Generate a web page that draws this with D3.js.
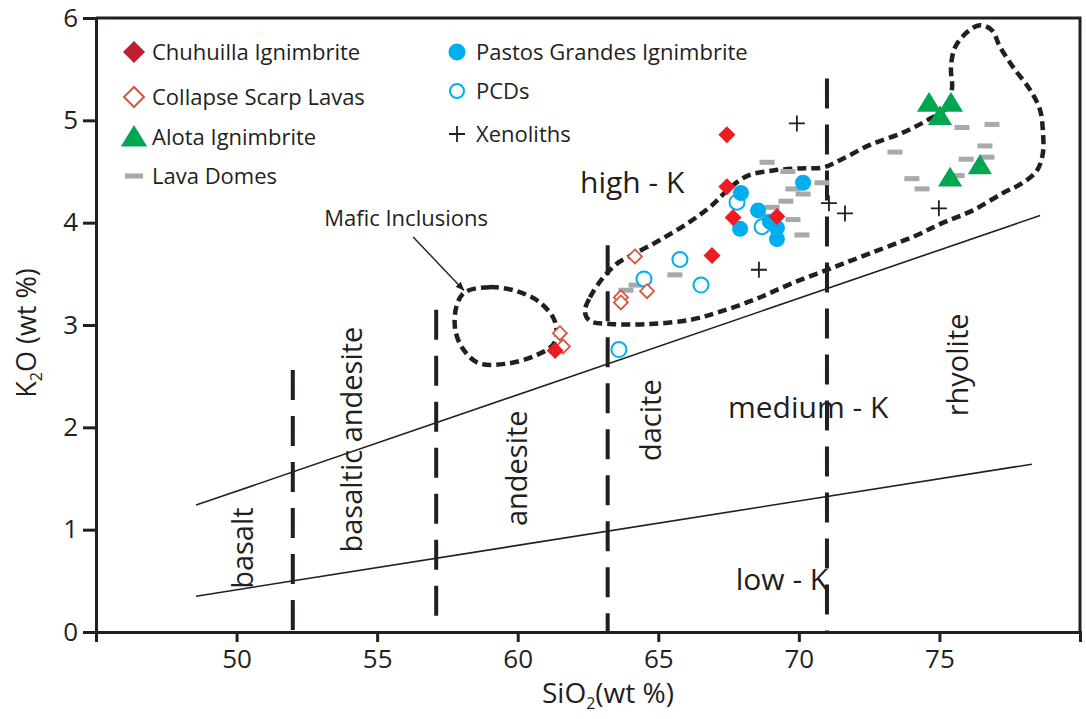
<!DOCTYPE html>
<html>
<head>
<meta charset="utf-8">
<script src="https://cdn.jsdelivr.net/npm/d3@7"></script>
<style>
  body { margin: 0; background: #fff; }
  text { font-family: "Open Sans", sans-serif; fill: #231f20; }
</style>
</head>
<body>
<div id="chart"></div>
<script>
// --- data (SiO2 wt %, K2O wt %) ---
var xTicks = [50, 55, 60, 65, 70, 75];
var yTicks = [0, 1, 2, 3, 4, 5, 6];

var chuhuilla = [[67.44, 4.86], [67.44, 4.35], [67.66, 4.05], [69.22, 4.06], [66.91, 3.68], [61.33, 2.75]];
var collapseScarp = [[64.17, 3.67], [64.60, 3.33], [63.67, 3.27], [63.67, 3.22], [61.50, 2.92], [61.61, 2.79]];
var alota = [[74.63, 5.17], [75.41, 5.17], [75.02, 5.04], [76.44, 4.56], [75.38, 4.44]];
var pastosGrandes = [[70.15, 4.39], [67.94, 4.29], [68.55, 4.12], [67.91, 3.94], [68.97, 4.01], [69.22, 3.95], [69.22, 3.84]];
var pcds = [[67.80, 4.20], [68.69, 3.96], [65.77, 3.64], [64.49, 3.45], [66.52, 3.39], [63.60, 2.76]];
var xenoliths = [[69.93, 4.97], [71.07, 4.19], [71.64, 4.09], [68.58, 3.54], [74.98, 4.14]];
var lavaDomes = [[68.87, 4.59], [69.61, 4.50], [70.82, 4.39], [69.79, 4.33], [70.15, 4.28], [69.54, 4.21],
  [69.05, 4.15], [68.90, 4.06], [69.79, 4.03], [70.11, 3.88], [65.59, 3.49], [63.85, 3.34], [64.21, 3.39],
  [75.80, 4.93], [76.87, 4.96], [73.42, 4.69], [76.62, 4.75], [76.69, 4.64], [75.95, 4.62], [75.63, 4.46],
  [74.02, 4.43], [74.38, 4.33]];

// K-series boundaries
var highKLine = [[48.56, 1.24], [78.58, 4.07]];
var lowKLine = [[48.56, 0.35], [78.29, 1.64]];

// rock-type boundaries: [SiO2, top K2O]
var rockBounds = [[52, 2.56], [57.1, 3.15], [63.2, 3.78], [71, 5.41]];

// dotted fields
var maficField = [[58.12, 3.32], [59.01, 3.37], [59.97, 3.33], [60.79, 3.22], [61.33, 3.03], [61.29, 2.82],
  [60.62, 2.70], [59.55, 2.62], [58.59, 2.63], [58.02, 2.78], [57.77, 2.97], [57.84, 3.20]];
var mainField = [[62.39, 3.13], [62.57, 3.27], [63.03, 3.46], [63.53, 3.60], [64.17, 3.70], [65.06, 3.83],
  [66.13, 4.01], [66.91, 4.17], [67.55, 4.34], [68.19, 4.46], [69.08, 4.51], [70.04, 4.53], [70.86, 4.54],
  [71.53, 4.62], [72.53, 4.76], [73.70, 4.88], [74.56, 5.00], [75.27, 5.13], [75.45, 5.32], [75.41, 5.51],
  [75.55, 5.71], [75.98, 5.86], [76.44, 5.93], [76.87, 5.88], [77.15, 5.72], [77.62, 5.52], [78.22, 5.30],
  [78.58, 5.10], [78.68, 4.89], [78.68, 4.68], [78.47, 4.51], [77.97, 4.39], [77.26, 4.29], [76.19, 4.12],
  [75.13, 4.00], [74.13, 3.87], [72.53, 3.70], [71.11, 3.55], [69.69, 3.40], [68.44, 3.25], [67.20, 3.13],
  [66.13, 3.05], [64.71, 3.01], [63.28, 3.01], [62.57, 3.04]];

var fieldLabels = [
  { t: "high - K", x: 64.07, y: 4.39, r: 0 },
  { t: "medium - K", x: 70.33, y: 2.19, r: 0 },
  { t: "low - K", x: 69.40, y: 0.51, r: 0 },
  { t: "basalt", x: 50.23, y: 0.82, r: -90 },
  { t: "basaltic andesite", x: 54.11, y: 1.88, r: -90 },
  { t: "andesite", x: 59.98, y: 1.60, r: -90 },
  { t: "dacite", x: 64.74, y: 2.07, r: -90 },
  { t: "rhyolite", x: 75.66, y: 2.61, r: -90 }
];
var maficArrow = [[56.28, 3.86], [58.08, 3.34]];

var w = 1086, h = 719;
var ink = "#231f20";

var svg = d3.select("#chart").append("svg")
  .attr("width", w).attr("height", h);

var x = d3.scaleLinear().domain([45, 80]).range([96, 1080]);
var y = d3.scaleLinear().domain([0, 6]).range([632, 18]);

// frame top/right
svg.append("path")
  .attr("d", "M" + x(45) + "," + y(6) + "H" + x(80) + "V" + y(0))
  .attr("fill", "none").attr("stroke", ink).attr("stroke-width", 3);

var line = d3.line().x(function(d) { return x(d[0]); }).y(function(d) { return y(d[1]); });

// K lines
[highKLine, lowKLine].forEach(function(l) {
  svg.append("path").attr("d", line(l))
    .attr("fill", "none").attr("stroke", ink).attr("stroke-width", 1.6);
});

// rock-type dashed boundaries
svg.selectAll(".bound").data(rockBounds).enter().append("line")
  .attr("x1", function(d) { return x(d[0]); })
  .attr("x2", function(d) { return x(d[0]); })
  .attr("y1", function(d) { return y(d[1]); })
  .attr("y2", y(0))
  .attr("stroke", ink).attr("stroke-width", 4)
  .attr("stroke-dasharray", "30,16");

// dotted fields
var fieldLine = d3.line().curve(d3.curveCatmullRomClosed.alpha(0.5))
  .x(function(d) { return x(d[0]); }).y(function(d) { return y(d[1]); });
[maficField, mainField].forEach(function(f) {
  svg.append("path").attr("d", fieldLine(f))
    .attr("fill", "none").attr("stroke", ink).attr("stroke-width", 4.5)
    .attr("stroke-dasharray", "9,5");
});

// arrow for mafic inclusions
svg.append("defs").append("marker")
  .attr("id", "arr").attr("viewBox", "0 0 10 10").attr("refX", 9).attr("refY", 5)
  .attr("markerWidth", 9).attr("markerHeight", 9).attr("markerUnits", "userSpaceOnUse")
  .attr("orient", "auto")
  .append("path").attr("d", "M0,1 L10,5 L0,9 Z").attr("fill", ink);
svg.append("path").attr("d", line(maficArrow))
  .attr("stroke", ink).attr("stroke-width", 1.4).attr("marker-end", "url(#arr)");
svg.append("text")
  .attr("x", x(56.03)).attr("y", y(4.04)).attr("dy", "0.35em")
  .attr("text-anchor", "middle").attr("font-size", 22)
  .text("Mafic Inclusions");

// field labels
svg.selectAll(".flab").data(fieldLabels).enter().append("text")
  .attr("transform", function(d) { return "translate(" + x(d.x) + "," + y(d.y) + ") rotate(" + d.r + ")"; })
  .attr("dy", "0.35em").attr("text-anchor", "middle")
  .attr("font-size", function(d) { return d.r === 0 ? 30 : 29; })
  .text(function(d) { return d.t; });

// symbols
function sym(g, type, s) {
  if (type === "diamond") {
    g.append("path").attr("d", "M0," + (-s) + "L" + s + ",0L0," + s + "L" + (-s) + ",0Z");
  } else if (type === "circle") {
    g.append("circle").attr("r", s);
  } else if (type === "triangle") {
    g.append("path").attr("d", "M0," + (-s) + "L" + (s * 1.1) + "," + (s * 0.8) + "L" + (-s * 1.1) + "," + (s * 0.8) + "Z");
  } else if (type === "plus") {
    g.append("path").attr("d", "M" + (-s) + ",0H" + s + "M0," + (-s) + "V" + s);
  } else if (type === "dash") {
    g.append("rect").attr("x", -s).attr("y", -2.5).attr("width", 2 * s).attr("height", 5);
  }
  return g;
}

function plot(data, type, s, fill, stroke, sw) {
  var g = svg.append("g");
  data.forEach(function(d) {
    var p = g.append("g").attr("transform", "translate(" + x(d[0]) + "," + y(d[1]) + ")")
      .attr("fill", fill).attr("stroke", stroke).attr("stroke-width", sw);
    sym(p, type, s);
  });
}

plot(lavaDomes, "dash", 7.5, "#a7a9ac", "none", 0);
plot(pcds, "circle", 7.5, "#fff", "#00aeef", 2);
plot(pastosGrandes, "circle", 8, "#00aeef", "none", 0);
plot(collapseScarp, "diamond", 7, "#fff", "#d4573f", 1.8);
plot(chuhuilla, "diamond", 8.5, "#ed1c24", "none", 0);
plot(alota, "triangle", 11, "#00a651", "none", 0);
plot(xenoliths, "plus", 8, "none", ink, 1.8);

// axes
var yAxis = d3.axisLeft(y).tickValues(yTicks).tickFormat(d3.format("d"))
  .tickSize(13).tickSizeOuter(13).tickPadding(5);
var xAxis = d3.axisBottom(x).tickValues(xTicks).tickFormat(d3.format("d"))
  .tickSize(10).tickSizeOuter(10).tickPadding(8);

var ga = svg.append("g").attr("transform", "translate(" + x(45) + ",0)").call(yAxis);
var gb = svg.append("g").attr("transform", "translate(0," + y(0) + ")").call(xAxis);
[ga, gb].forEach(function(g) {
  g.selectAll("path, line").attr("stroke", ink).attr("stroke-width", 3);
  g.selectAll("text").attr("font-family", "Open Sans").attr("font-size", 26).attr("fill", ink);
});

// axis titles
var xt = svg.append("text").attr("x", 608).attr("y", 703)
  .attr("text-anchor", "middle").attr("font-size", 28);
xt.append("tspan").text("SiO");
xt.append("tspan").attr("font-size", 16).attr("dy", 6).text("2");
xt.append("tspan").attr("dy", -6).text("(wt %)");

var yt = svg.append("text").attr("transform", "translate(36,333) rotate(-90)")
  .attr("text-anchor", "middle").attr("font-size", 27);
yt.append("tspan").text("K");
yt.append("tspan").attr("font-size", 16).attr("dy", 6).text("2");
yt.append("tspan").attr("dy", -6).text("O (wt %)");

// legend
var legendLeft = [
  { t: "Chuhuilla Ignimbrite", type: "diamond", s: 11, fill: "#be1e2d", stroke: "none", sw: 0, yy: 52 },
  { t: "Collapse Scarp Lavas", type: "diamond", s: 10, fill: "#fff", stroke: "#d4573f", sw: 2, yy: 97 },
  { t: "Alota Ignimbrite", type: "triangle", s: 12, fill: "#00a651", stroke: "none", sw: 0, yy: 137 },
  { t: "Lava Domes", type: "dash", s: 9, fill: "#a7a9ac", stroke: "none", sw: 0, yy: 176 }
];
var legendRight = [
  { t: "Pastos Grandes Ignimbrite", type: "circle", s: 8.5, fill: "#00aeef", stroke: "none", sw: 0, yy: 52 },
  { t: "PCDs", type: "circle", s: 7, fill: "#fff", stroke: "#00aeef", sw: 2, yy: 91 },
  { t: "Xenoliths", type: "plus", s: 8, fill: "none", stroke: ink, sw: 1.8, yy: 134 }
];
function legend(items, sx, tx) {
  items.forEach(function(d) {
    var p = svg.append("g").attr("transform", "translate(" + sx + "," + d.yy + ")")
      .attr("fill", d.fill).attr("stroke", d.stroke).attr("stroke-width", d.sw);
    sym(p, d.type, d.s);
    svg.append("text").attr("x", tx).attr("y", d.yy).attr("dy", "0.35em")
      .attr("font-size", 22).text(d.t);
  });
}
legend(legendLeft, 134, 152);
legend(legendRight, 457, 476);
</script>
</body>
</html>
